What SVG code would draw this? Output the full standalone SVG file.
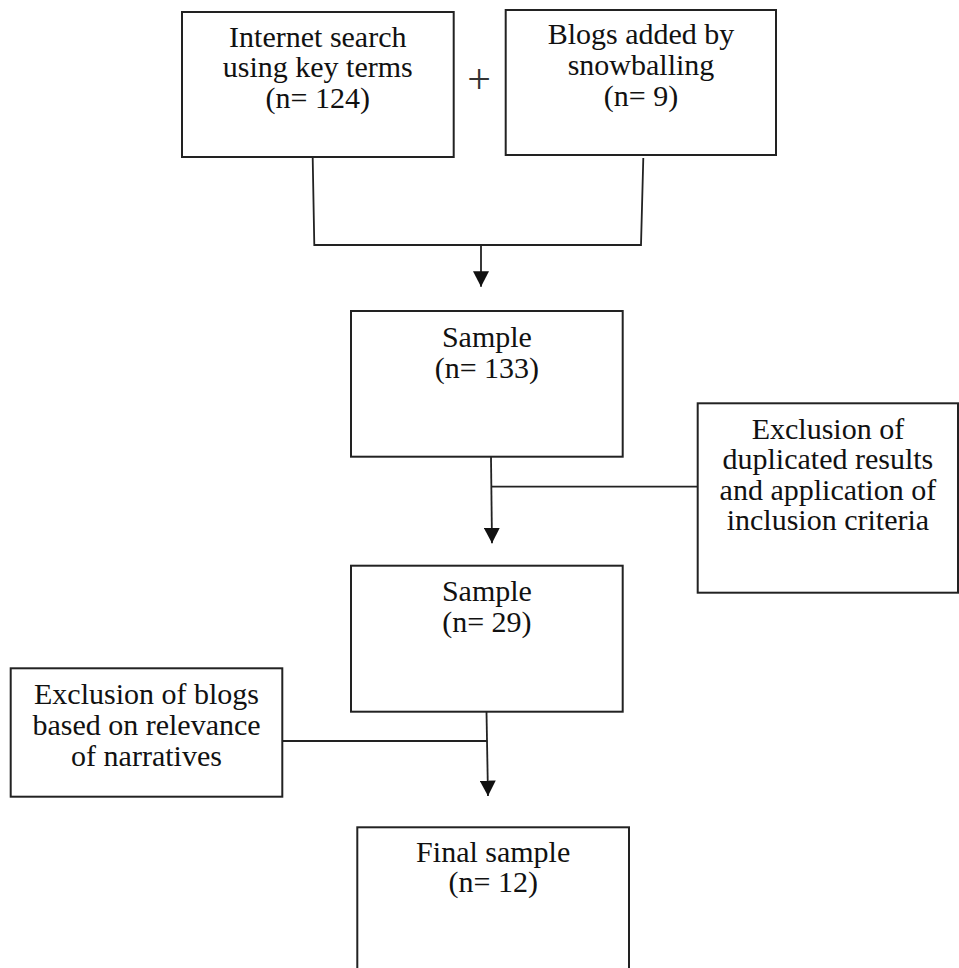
<svg xmlns="http://www.w3.org/2000/svg" width="959" height="968" viewBox="0 0 959 968">
<style>
.box{fill:#fff;stroke:#222;stroke-width:2}
.t{font-family:"Liberation Serif","Times New Roman",serif;font-size:30px;fill:#111;text-anchor:middle}
.c{fill:none;stroke:#222;stroke-width:1.8}
</style>
<defs>
<marker id="ah" markerUnits="userSpaceOnUse" markerWidth="16" markerHeight="16" viewBox="0 0 15 15" refX="14.5" refY="7.5" orient="auto">
<path d="M0,0 L14.5,7.5 L0,15 Z" fill="#111"/>
</marker>
</defs>
<rect width="959" height="968" fill="#fff"/>
<g id="connectors">
<path class="c" d="M312.7,158 L314.3,245 L641,245 L643.3,158"/>
<path class="c" d="M481,245 L481,286.7" marker-end="url(#ah)"/>
<path class="c" d="M491,457 L492,543.3" marker-end="url(#ah)"/>
<path class="c" d="M491,486.7 L705,486.7"/>
<path class="c" d="M486.5,712 L488,796" marker-end="url(#ah)"/>
<path class="c" d="M282.3,741 L487,741"/>
<text class="t" x="479" y="93" style="font-size:42px;fill:#333">+</text>
</g>
<g id="internet-search">
<rect class="box" x="182" y="12" width="271.7" height="145"/>
<text class="t" x="317.8" y="46.7">Internet search</text>
<text class="t" x="317.8" y="77.3">using key terms</text>
<text class="t" x="317.8" y="108">(n= 124)</text>
</g>
<g id="snowballing">
<rect class="box" x="505.7" y="10" width="270.3" height="145"/>
<text class="t" x="641" y="44.3">Blogs added by</text>
<text class="t" x="641" y="75">snowballing</text>
<text class="t" x="641" y="106">(n= 9)</text>
</g>
<g id="sample-133">
<rect class="box" x="351" y="311" width="271.7" height="145.7"/>
<text class="t" x="486.9" y="346.7">Sample</text>
<text class="t" x="486.9" y="378">(n= 133)</text>
</g>
<g id="exclusion-duplicates">
<rect class="box" x="697.7" y="403.3" width="260.3" height="189.4"/>
<text class="t" x="827.9" y="438.5">Exclusion of</text>
<text class="t" x="827.9" y="469">duplicated results</text>
<text class="t" x="827.9" y="499.5">and application of</text>
<text class="t" x="827.9" y="530">inclusion criteria</text>
</g>
<g id="sample-29">
<rect class="box" x="351" y="565.7" width="271.7" height="146"/>
<text class="t" x="486.9" y="601">Sample</text>
<text class="t" x="486.9" y="632">(n= 29)</text>
</g>
<g id="exclusion-relevance">
<rect class="box" x="10.7" y="668.3" width="271.6" height="128.4"/>
<text class="t" x="146.5" y="704">Exclusion of blogs</text>
<text class="t" x="146.5" y="735">based on relevance</text>
<text class="t" x="146.5" y="765.5">of narratives</text>
</g>
<g id="final-sample">
<rect class="box" x="357.3" y="827.3" width="271.7" height="150"/>
<text class="t" x="493.2" y="861.7">Final sample</text>
<text class="t" x="493.2" y="892">(n= 12)</text>
</g>
</svg>
